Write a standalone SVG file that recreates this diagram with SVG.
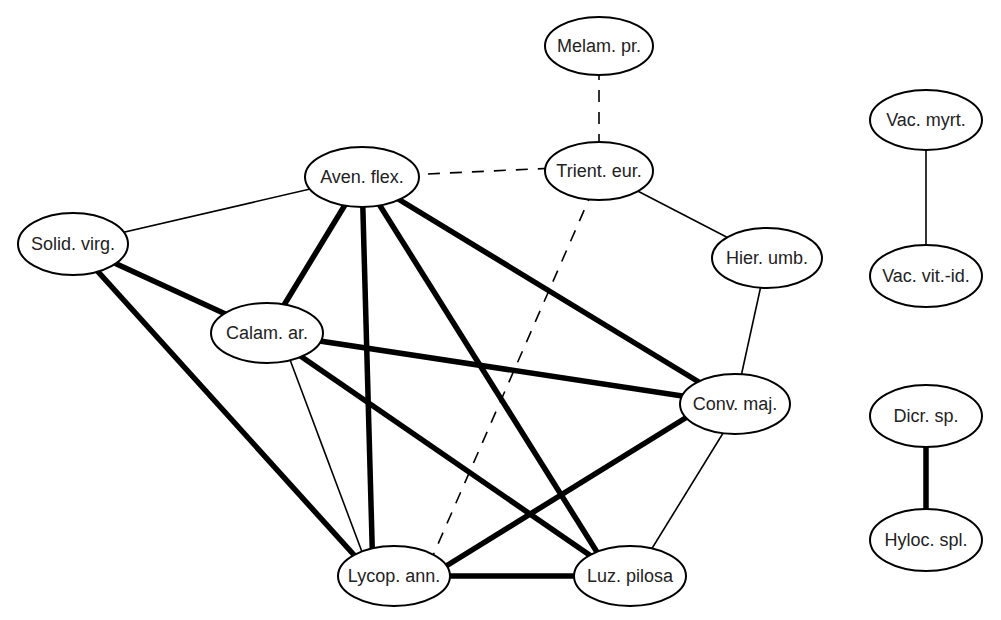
<svg xmlns="http://www.w3.org/2000/svg" width="1001" height="620" viewBox="0 0 1001 620">
<style>
.bg{fill:#ffffff}
.node ellipse{fill:#ffffff;stroke:#000000;stroke-width:2}
.node text{font-family:"Liberation Sans",Arial,sans-serif;font-size:18px;fill:#222222;text-anchor:middle;dominant-baseline:central}
.thin{stroke:#000000;stroke-width:1.6;fill:none}
.thick{stroke:#000000;stroke-width:5.5;fill:none}
.dash{stroke:#000000;stroke-width:1.6;fill:none;stroke-dasharray:12 10}
</style>
<rect class="bg" x="0" y="0" width="1001" height="620"/>
<g id="connectors">
<line class="thin" x1="362" y1="177" x2="73" y2="244"/>
<line class="dash" x1="362" y1="177" x2="599" y2="166"/>
<line class="dash" x1="599" y1="46" x2="599" y2="171"/>
<line class="thin" x1="599" y1="171" x2="767" y2="258"/>
<line class="thin" x1="767" y1="258" x2="735" y2="404"/>
<line class="thin" x1="741" y1="404" x2="635" y2="576"/>
<line class="thick" x1="362" y1="177" x2="267" y2="333"/>
<line class="thick" x1="362" y1="177" x2="373" y2="576"/>
<line class="thick" x1="362" y1="177" x2="612" y2="576"/>
<line class="thick" x1="362" y1="177" x2="735" y2="404"/>
<line class="thick" x1="73" y1="244" x2="267" y2="333"/>
<line class="thick" x1="73" y1="244" x2="373" y2="576"/>
<line class="thick" x1="267" y1="333" x2="735" y2="404"/>
<line class="thick" x1="267" y1="333" x2="620" y2="576"/>
<line class="thin" x1="280" y1="333" x2="371" y2="576"/>
<line class="dash" x1="593" y1="190" x2="431" y2="560"/>
<line class="thick" x1="430" y1="576" x2="700" y2="409"/>
<line class="thick" x1="394" y1="576" x2="630" y2="576"/>
<line class="thin" x1="926" y1="120" x2="926" y2="276"/>
<line class="thick" x1="926" y1="416" x2="926" y2="540"/>
</g>
<g id="melam" class="node"><ellipse cx="599" cy="46" rx="54" ry="29"/><text x="599" y="46">Melam. pr.</text></g>
<g id="trient" class="node"><ellipse cx="599" cy="171" rx="54" ry="29"/><text x="599" y="171">Trient. eur.</text></g>
<g id="aven" class="node"><ellipse cx="362" cy="177" rx="57" ry="30"/><text x="362" y="177">Aven. flex.</text></g>
<g id="solid" class="node"><ellipse cx="73" cy="244" rx="55" ry="31"/><text x="73" y="244">Solid. virg.</text></g>
<g id="hier" class="node"><ellipse cx="767" cy="258" rx="55" ry="30"/><text x="767" y="258">Hier. umb.</text></g>
<g id="calam" class="node"><ellipse cx="267" cy="333" rx="56" ry="30"/><text x="267" y="333">Calam. ar.</text></g>
<g id="conv" class="node"><ellipse cx="735" cy="404" rx="55" ry="30"/><text x="735" y="404">Conv. maj.</text></g>
<g id="lycop" class="node"><ellipse cx="394" cy="576" rx="56" ry="30"/><text x="394" y="576">Lycop. ann.</text></g>
<g id="luz" class="node"><ellipse cx="630" cy="576" rx="56" ry="30"/><text x="630" y="576">Luz. pilosa</text></g>
<g id="vacmyrt" class="node"><ellipse cx="926" cy="120" rx="56" ry="30"/><text x="926" y="120">Vac. myrt.</text></g>
<g id="vacvit" class="node"><ellipse cx="926" cy="276" rx="56" ry="31"/><text x="926" y="276">Vac. vit.-id.</text></g>
<g id="dicr" class="node"><ellipse cx="926" cy="416" rx="56" ry="31"/><text x="926" y="416">Dicr. sp.</text></g>
<g id="hyloc" class="node"><ellipse cx="926" cy="540" rx="56" ry="31"/><text x="926" y="540">Hyloc. spl.</text></g>
</svg>
